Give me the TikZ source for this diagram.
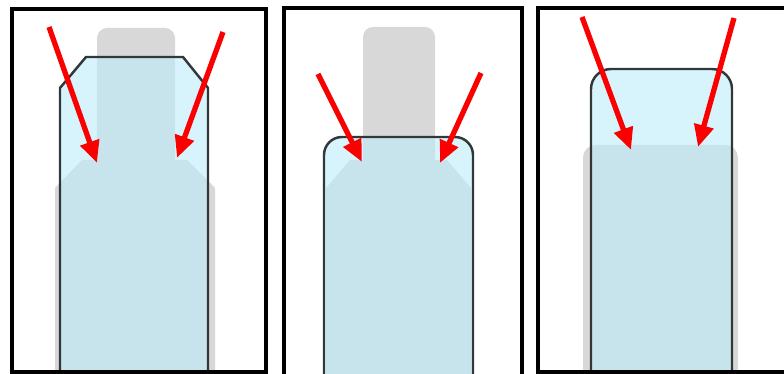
\documentclass[tikz,border=0pt]{standalone}
\usetikzlibrary{arrows.meta}
\definecolor{glass}{RGB}{188,237,250}
\definecolor{ghost}{RGB}{216,216,216}
\definecolor{rim}{RGB}{50,55,58}
\definecolor{ray}{RGB}{250,0,0}
\tikzset{
  >={Triangle[length=4.4mm,width=3.8mm]},
  frame/.style={draw=black,line width=2.2pt},
  shadow part/.style={fill=ghost},
  glass part/.style={fill=glass,fill opacity=0.6,draw=rim,line width=1.4pt},
  light ray/.style={->,draw=ray,fill=ray,line width=3pt},
}
\begin{document}
\begin{tikzpicture}[x=0.02cm,y=-0.02cm]
  \useasboundingbox (0,0) rectangle (784,374);
  \clip (0,0) rectangle (784,374);
  % panel 1: chamfered top
  \fill[shadow part,rounded corners=0.2cm] (97,28) rectangle (175,175);
  \fill[shadow part] (82,160) -- (187,160) -- (215,188) -- (215,390) -- (55,390) -- (55,188) -- cycle;
  \draw[glass part] (86,57) -- (183,57) -- (208,88) -- (208,390) -- (60,390) -- (60,88) -- cycle;
  \draw[light ray] (49,27) -- (97,163);
  \draw[light ray] (223,32) -- (177,158);
  \draw[frame] (12,9) rectangle (266,372);
  % panel 2: rounded top
  \fill[shadow part,rounded corners=0.2cm] (363,27) rectangle (435,175);
  \fill[shadow part] (350,160) -- (447,160) -- (471,188) -- (471,390) -- (326,390) -- (326,188) -- cycle;
  \draw[glass part,rounded corners=0.36cm] (324,137) rectangle (473,400);
  \draw[light ray] (318,74) -- (362,162);
  \draw[light ray] (481,73) -- (440,163);
  \draw[frame] (284,8) rectangle (522,378);
  % panel 3: tall rounded top
  \fill[shadow part,rounded corners=0.25cm] (583,145) rectangle (738,400);
  \draw[glass part,rounded corners=0.4cm] (591,69) rectangle (732,400);
  \draw[light ray] (582,17) -- (631,150);
  \draw[light ray] (734,18) -- (698,147);
  \draw[frame] (538,8) rectangle (795,372);
\end{tikzpicture}
\end{document}
